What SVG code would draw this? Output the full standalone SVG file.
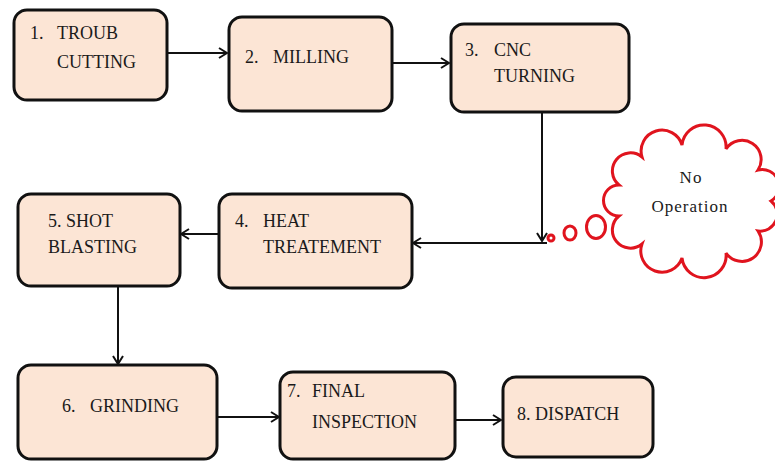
<svg xmlns="http://www.w3.org/2000/svg" width="775" height="463" viewBox="0 0 775 463">
<style>
.box{fill:#FCE5D5;stroke:#111;stroke-width:3}
.t{font-family:"Liberation Serif","DejaVu Serif","Times New Roman",serif;font-size:18px;fill:#1a1a1a}
.c{font-family:"Liberation Serif","DejaVu Serif","Times New Roman",serif;font-size:17px;letter-spacing:1px;fill:#1a1a1a;text-anchor:middle}
.ln{stroke:#111;stroke-width:2;fill:none}
.cl{fill:#fff;stroke:#E0141E;stroke-width:3}
</style>
<defs>
<marker id="ah" viewBox="0 0 10 12" refX="9" refY="6" markerWidth="10" markerHeight="12" markerUnits="userSpaceOnUse" orient="auto">
<path d="M1,1 L9,6 L1,11" fill="none" stroke="#111" stroke-width="2"/>
</marker>
</defs>
<rect width="775" height="463" fill="#fff"/>
<g id="connectors">
<line class="ln" x1="167" y1="53" x2="227" y2="53" marker-end="url(#ah)"/>
<line class="ln" x1="392" y1="63" x2="449" y2="63" marker-end="url(#ah)"/>
<line class="ln" x1="542" y1="112" x2="542" y2="241" marker-end="url(#ah)"/>
<line class="ln" x1="547" y1="243" x2="413" y2="243" marker-end="url(#ah)"/>
<line class="ln" x1="218" y1="234" x2="181" y2="234" marker-end="url(#ah)"/>
<line class="ln" x1="118" y1="286" x2="118" y2="364" marker-end="url(#ah)"/>
<line class="ln" x1="217" y1="417" x2="279" y2="417" marker-end="url(#ah)"/>
<line class="ln" x1="455" y1="420" x2="501" y2="420" marker-end="url(#ah)"/>
</g>
<g id="n1">
<rect class="box" x="14" y="10" width="153" height="90" rx="13"/>
<text class="t" x="30" y="39">1.</text><text class="t" x="57" y="39">TROUB</text>
<text class="t" x="57" y="68">CUTTING</text>
</g>
<g id="n2">
<rect class="box" x="229" y="17" width="163" height="94" rx="13"/>
<text class="t" x="245" y="63">2.</text><text class="t" x="273" y="63">MILLING</text>
</g>
<g id="n3">
<rect class="box" x="451" y="24" width="178" height="88" rx="13"/>
<text class="t" x="465" y="56">3.</text><text class="t" x="494" y="56">CNC</text>
<text class="t" x="494" y="82">TURNING</text>
</g>
<g id="n4">
<rect class="box" x="219" y="194" width="193" height="94" rx="13"/>
<text class="t" x="235" y="227">4.</text><text class="t" x="263" y="227">HEAT</text>
<text class="t" x="263" y="253">TREATEMENT</text>
</g>
<g id="n5">
<rect class="box" x="18" y="194" width="162" height="92" rx="13"/>
<text class="t" x="48" y="227">5. SHOT</text>
<text class="t" x="48" y="253">BLASTING</text>
</g>
<g id="n6">
<rect class="box" x="18" y="365" width="199" height="94" rx="13"/>
<text class="t" x="62" y="412">6.</text><text class="t" x="90" y="412">GRINDING</text>
</g>
<g id="n7">
<rect class="box" x="280" y="372" width="175" height="87" rx="13"/>
<text class="t" x="287" y="397">7.</text><text class="t" x="312" y="397">FINAL</text>
<text class="t" x="312" y="428">INSPECTION</text>
</g>
<g id="n8">
<rect class="box" x="503" y="377" width="150" height="80" rx="13"/>
<text class="t" x="517" y="420">8. DISPATCH</text>
</g>
<g id="cloud">
<circle class="cl" cx="551" cy="238" r="3" stroke-width="2.5"/>
<ellipse class="cl" cx="570" cy="233" rx="6" ry="7"/>
<ellipse class="cl" cx="596" cy="227" rx="9.5" ry="11.5"/>
<path class="cl" d="M771,201 A17,17 0 0 1 758,231 A18,18 0 0 1 726,253 A20,20 0 0 1 682,258 A20,20 0 0 1 642,244 A17,17 0 0 1 619,216 A15,15 0 0 1 619,185 A17,17 0 0 1 642,157 A20,20 0 0 1 682,145 A20,20 0 0 1 726,149 A18,18 0 0 1 758,170 A17,17 0 0 1 771,201 Z"/>
<text class="c" x="691" y="183">No</text>
<text class="c" x="690" y="212">Operation</text>
</g>
</svg>
